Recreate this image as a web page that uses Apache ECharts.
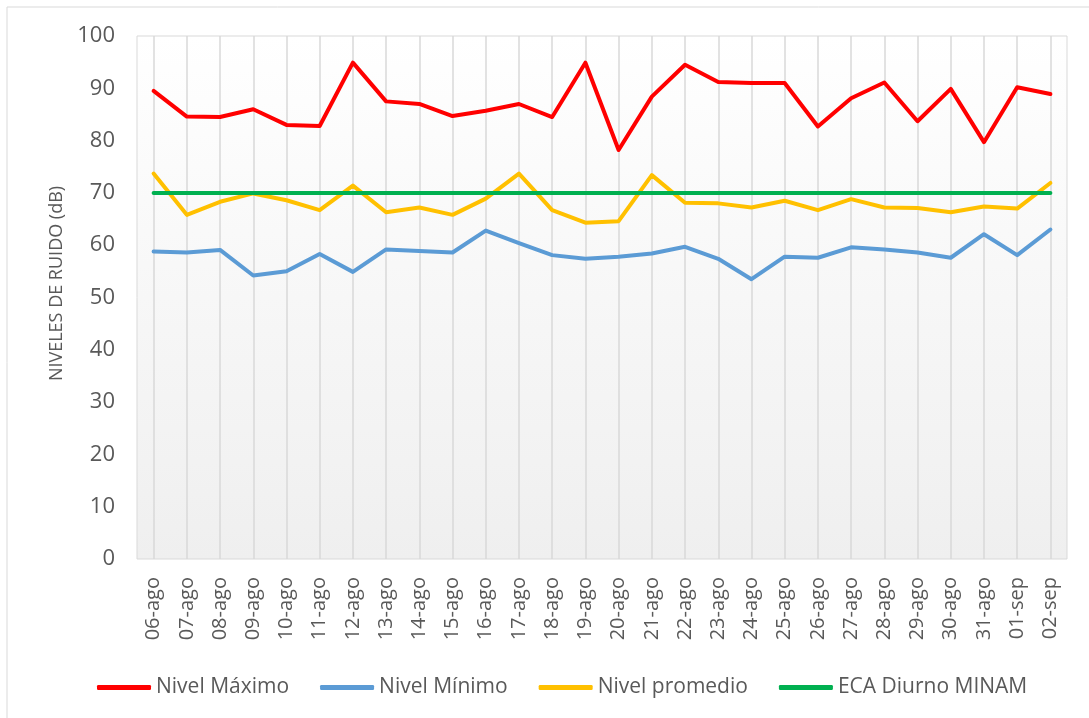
<!DOCTYPE html>
<html>
<head>
<meta charset="utf-8">
<script src="https://cdn.jsdelivr.net/npm/echarts@6/dist/echarts.min.js"></script>
<style>
  html, body { margin: 0; padding: 0; background: #fff; }
  #chart { width: 1089px; height: 718px; }
</style>
</head>
<body>
<div id="chart"></div>
<script>
// fechas de monitoreo
const fechas = ['06-ago', '07-ago', '08-ago', '09-ago', '10-ago', '11-ago', '12-ago', '13-ago', '14-ago', '15-ago',
  '16-ago', '17-ago', '18-ago', '19-ago', '20-ago', '21-ago', '22-ago', '23-ago', '24-ago', '25-ago',
  '26-ago', '27-ago', '28-ago', '29-ago', '30-ago', '31-ago', '01-sep', '02-sep'];

const nivelMaximo = [89.5, 84.6, 84.5, 86.0, 83.0, 82.8, 94.9, 87.5, 87.0, 84.7,
  85.7, 87.0, 84.5, 94.9, 78.2, 88.4, 94.5, 91.2, 91.0, 91.0,
  82.7, 88.1, 91.1, 83.7, 89.9, 79.7, 90.2, 88.9];

const nivelMinimo = [58.8, 58.6, 59.1, 54.2, 55.0, 58.3, 54.9, 59.2, 58.9, 58.6,
  62.8, 60.4, 58.1, 57.4, 57.8, 58.4, 59.7, 57.4, 53.5, 57.8,
  57.6, 59.6, 59.2, 58.6, 57.6, 62.1, 58.1, 63.0];

const nivelPromedio = [73.7, 65.8, 68.3, 69.9, 68.6, 66.7, 71.4, 66.3, 67.2, 65.8,
  68.9, 73.7, 66.7, 64.3, 64.6, 73.4, 68.1, 68.0, 67.2, 68.5,
  66.7, 68.8, 67.2, 67.1, 66.3, 67.4, 67.0, 71.9];

const ecaDiurno = [70, 70, 70, 70, 70, 70, 70, 70, 70, 70,
  70, 70, 70, 70, 70, 70, 70, 70, 70, 70,
  70, 70, 70, 70, 70, 70, 70, 70];

const yTicks = [0, 10, 20, 30, 40, 50, 60, 70, 80, 90, 100];

const fuente = '"Open Sans", "Liberation Sans", sans-serif';
const gris = '#595959';

const myChart = echarts.init(document.getElementById('chart'));

function linea(nombre, datos, color) {
  return {
    name: nombre,
    type: 'line',
    data: datos,
    showSymbol: false,
    symbol: 'none',
    lineStyle: { color: color, width: 4, cap: 'round', join: 'round' },
    itemStyle: { color: color },
    animation: false
  };
}

const option = {
  backgroundColor: '#fff',
  animation: false,
  textStyle: { fontFamily: fuente },
  graphic: [
    { type: 'line', shape: { x1: 7, y1: 7, x2: 1089, y2: 7 }, style: { stroke: '#D9D9D9', lineWidth: 1 } },
    { type: 'line', shape: { x1: 7, y1: 7, x2: 7, y2: 718 }, style: { stroke: '#D9D9D9', lineWidth: 1 } }
  ],
  grid: {
    left: 137,
    top: 36,
    right: 22,
    bottom: 159,
    show: true,
    borderColor: '#D9D9D9',
    borderWidth: 1,
    backgroundColor: {
      type: 'linear', x: 0, y: 0, x2: 0, y2: 1,
      colorStops: [
        { offset: 0, color: '#FFFFFF' },
        { offset: 1, color: '#EFEFEF' }
      ]
    }
  },
  legend: {
    data: ['Nivel Máximo', 'Nivel Mínimo', 'Nivel promedio', 'ECA Diurno MINAM'],
    left: 92,
    top: 672,
    icon: 'roundRect',
    itemWidth: 54,
    itemHeight: 5,
    itemGap: 31,
    textStyle: { fontSize: 21, color: gris, fontFamily: fuente }
  },
  xAxis: {
    type: 'category',
    data: fechas,
    boundaryGap: true,
    axisLine: { show: false },
    axisTick: { show: false },
    splitLine: { show: true, alignWithLabel: true, lineStyle: { color: '#D9D9D9', width: 1.5 } },
    axisLabel: {
      rotate: 90,
      interval: 0,
      margin: 18,
      fontSize: 20,
      color: gris,
      fontFamily: fuente
    }
  },
  yAxis: {
    type: 'value',
    min: yTicks[0],
    max: yTicks[yTicks.length - 1],
    interval: 10,
    name: 'NIVELES DE RUIDO (dB)',
    nameLocation: 'middle',
    nameGap: 70,
    nameTextStyle: { fontSize: 18, color: gris, fontFamily: fuente, padding: [0, 0, 0, 28] },
    axisLine: { show: false },
    axisTick: { show: false },
    splitLine: { show: false },
    axisLabel: { fontSize: 22, color: gris, margin: 22, fontFamily: fuente }
  },
  series: [
    linea('Nivel Máximo', nivelMaximo, '#FF0000'),
    linea('Nivel Mínimo', nivelMinimo, '#5B9BD5'),
    linea('Nivel promedio', nivelPromedio, '#FFC000'),
    linea('ECA Diurno MINAM', ecaDiurno, '#00B050')
  ]
};

myChart.setOption(option);

window.addEventListener('resize', () => myChart.resize());
</script>
</body>
</html>
